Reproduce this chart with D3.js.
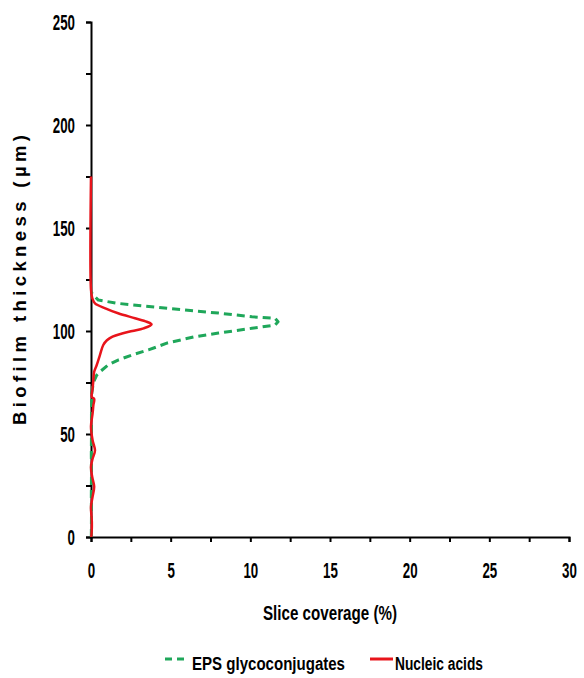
<!DOCTYPE html>
<html><head><meta charset="utf-8">
<script src="https://cdn.jsdelivr.net/npm/d3@7"></script>
<style>body{margin:0;background:#fff}</style>
</head><body>
<svg id="c" width="584" height="678"></svg>
<script>
const xTicks = [0,5,10,15,20,25,30];
const yTicks = [0,50,100,150,200,250];
const epsThickness = [0,10,20,30,40,50,60,70,75,78.6,80.2,83.5,85.9,88.3,90.8,94.2,97.2,99,101.3,102.9,104.5,106.2,106.9,108.7,110.2,111.8,113.4,115,117.5,119];
const epsCoverage  = [0.02,0.03,0.02,0.03,0.02,0.03,0.03,0.05,0.15,0.36,0.56,1.07,1.7,2.55,3.6,4.8,6.5,8.0,10.1,11.55,11.74,11.55,10.1,8.0,5.9,3.8,1.7,0.46,0.14,0];
const naThickness = [0,4,8,14.7,19.6,24.5,29,34,38,42,47,53.6,60,64,67,68,72,76.2,80.2,83.5,88.3,93.2,95.5,97.3,98.8,100,101.3,103.2,104.5,106.2,108.6,111,113.4,115.9,120,175];
const naCoverage  = [0.02,0.05,0.05,0.0,0.1,0.2,0.08,0.0,0.1,0.25,0.1,0.0,0.1,0.15,0.2,0.05,0.1,0.15,0.2,0.36,0.56,0.77,1.0,1.35,1.95,2.6,3.3,3.8,3.5,2.76,1.7,0.9,0.25,0.08,0,0];
const seriesNames = ["EPS glycoconjugates","Nucleic acids"];

const svg = d3.select("#c");
const x = d3.scaleLinear().domain([0,30]).range([91,569]);
const y = d3.scaleLinear().domain([0,250]).range([537,22]);
const bold = "'Liberation Sans',Arial,sans-serif";

function condense(sel, perChar){
  sel.each(function(){
    const t = d3.select(this), s = t.text();
    if (s.length) t.attr("textLength", s.length*perChar).attr("lengthAdjust","spacingAndGlyphs");
  });
}

// axes
const xAxis = d3.axisBottom(x).tickValues(d3.range(0,30.01,2.5)).tickSize(5).tickPadding(0).tickFormat(d => xTicks.includes(d) ? d : "");
const gx = svg.append("g").attr("transform","translate(0,537)").call(xAxis);
const yAxis = d3.axisLeft(y).tickValues(d3.range(0,250.01,25)).tickSize(5).tickPadding(0).tickFormat(d => yTicks.includes(d) ? d : "");
const gy = svg.append("g").attr("transform","translate(91,0)").call(yAxis);
[gx,gy].forEach(g=>{
  g.select(".domain").attr("stroke","#000").attr("stroke-width",2);
  g.selectAll(".tick line").attr("stroke","#000").attr("stroke-width",2);
  g.selectAll("text").attr("font-family",bold).attr("font-weight","bold").attr("font-size",22).attr("fill","#000");
});
gx.selectAll("text").attr("y",41).attr("dy",null);
gy.selectAll("text").attr("x",-16).attr("dy","0.36em");
condense(gx.selectAll("text"), 7.4);
condense(gy.selectAll("text"), 7.4);

// lines
const lineGen = d3.line().x(d=>x(d[1])).y(d=>y(d[0]));
const eps = epsThickness.map((t,i)=>[t,epsCoverage[i]]);
const na = naThickness.map((t,i)=>[t,naCoverage[i]]);
svg.append("path").attr("d",lineGen(eps)).attr("fill","none").attr("stroke","#1fa75a").attr("stroke-width",3).attr("stroke-dasharray","8,5").attr("stroke-linejoin","round");
svg.append("path").attr("d",lineGen.curve(d3.curveCatmullRom)(na)).attr("fill","none").attr("stroke","#e8141b").attr("stroke-width",2.5).attr("stroke-linejoin","round");

// titles
svg.append("text").attr("x",330).attr("y",620).attr("text-anchor","middle")
  .attr("font-family",bold).attr("font-weight","bold").attr("font-size",20)
  .attr("textLength",134).attr("lengthAdjust","spacingAndGlyphs").text("Slice coverage (%)");
svg.append("text").attr("transform","translate(26,280) rotate(-90)").attr("text-anchor","middle")
  .attr("font-family",bold).attr("font-weight","bold").attr("font-size",18.5)
  .attr("textLength",290).attr("lengthAdjust","spacing").text("Biofilm thickness  (µm)");

// legend
const lg = svg.append("g");
lg.append("line").attr("x1",165).attr("x2",189).attr("y1",659).attr("y2",659).attr("stroke","#1fa75a").attr("stroke-width",3).attr("stroke-dasharray","7,5");
lg.append("text").attr("x",192).attr("y",670).attr("font-family",bold).attr("font-weight","bold").attr("font-size",18)
  .attr("textLength",153).attr("lengthAdjust","spacingAndGlyphs").text(seriesNames[0]);
lg.append("line").attr("x1",370).attr("x2",393).attr("y1",659).attr("y2",659).attr("stroke","#e8141b").attr("stroke-width",3);
lg.append("text").attr("x",395).attr("y",670).attr("font-family",bold).attr("font-weight","bold").attr("font-size",18)
  .attr("textLength",88).attr("lengthAdjust","spacingAndGlyphs").text(seriesNames[1]);
</script>
</body></html>
